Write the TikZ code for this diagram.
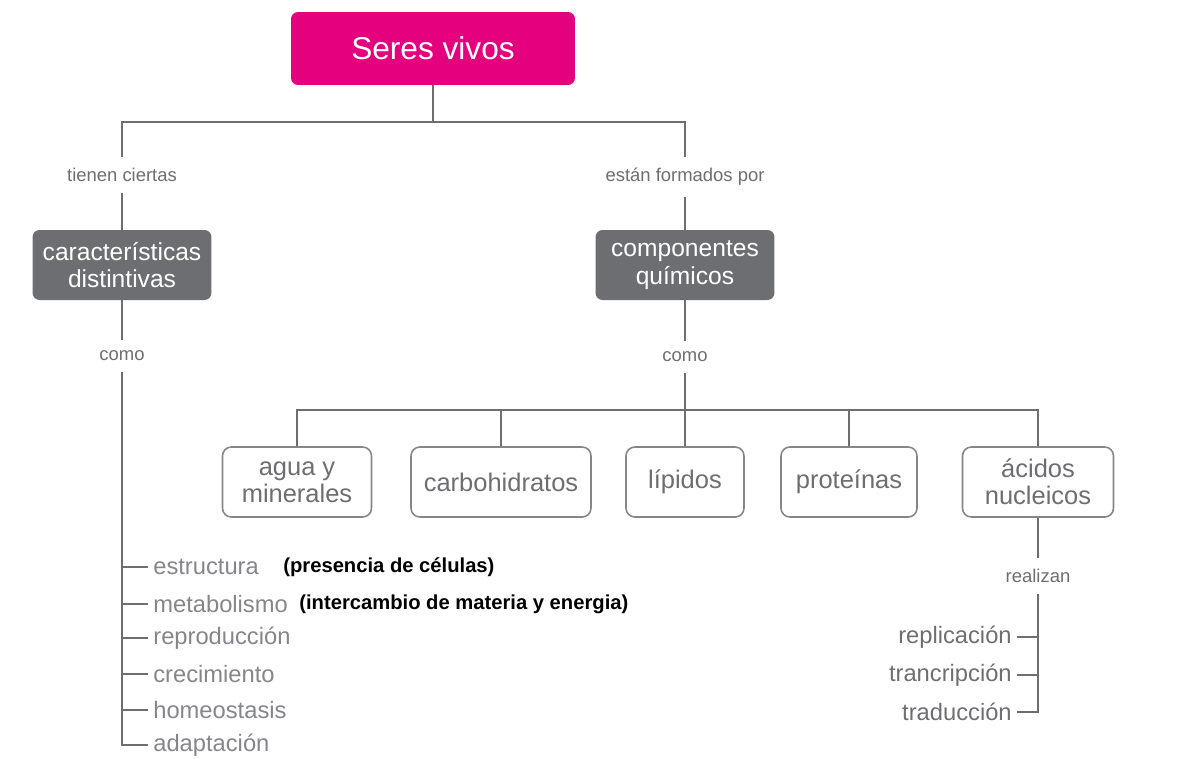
\documentclass[tikz,border=0pt]{standalone}
\usepackage{fontspec}
\setmainfont{Liberation Sans}
\usetikzlibrary{positioning}
\definecolor{pinkbox}{HTML}{E5007D}
\definecolor{darkbox}{HTML}{6D6E71}
\definecolor{linegray}{HTML}{6D6E71}
\definecolor{textgray}{HTML}{6D6E71}
\definecolor{itemgray}{HTML}{858689}
\tikzset{
  rootbox/.style={fill=pinkbox,rounded corners=4pt,text=white,minimum width=5.68cm,minimum height=1.46cm,font=\fontsize{18}{21}\selectfont},
  mainbox/.style={fill=darkbox,rounded corners=4pt,text=white,minimum width=3.58cm,minimum height=1.4cm,align=center,font=\fontsize{14}{15.5}\selectfont},
  subbox/.style={draw=itemgray,line width=0.9pt,rounded corners=5pt,text=textgray,minimum height=1.4cm,align=center,font=\fontsize{14.5}{15.5}\selectfont},
  linklabel/.style={text=textgray,inner xsep=2pt,inner ysep=6pt,font=\fontsize{10.5}{12}\selectfont},
  itemtext/.style={text=itemgray,inner sep=0pt,font=\fontsize{13.5}{15}\selectfont},
  notetext/.style={text=black,inner sep=0pt,font=\bfseries\fontsize{11.5}{13}\selectfont},
  conn/.style={draw=linegray,line width=1pt}
}
\begin{document}
\begin{tikzpicture}[x=0.02cm,y=-0.02cm]
\useasboundingbox (0,0) rectangle (1182,758);
% main boxes
\node[rootbox] (seres) at (433,48.5) {Seres vivos};
\node[mainbox] (carac) at (122,265) {características\\distintivas};
\node[mainbox] (comp) at (685,265) {componentes\\químicos};
% link labels
\node[linklabel] (tienen) at (122,175) {tienen ciertas};
\node[linklabel] (estan) at (685,177) {están formados por};
\node[linklabel] (comoL) at (122,356) {como};
\node[linklabel] (comoR) at (685,357) {como};
\node[linklabel] (realizan) at (1038,576) {realizan};
% components
\node[subbox,minimum width=2.98cm] (agua) at (297,482) {agua y\\minerales};
\node[subbox,minimum width=3.6cm] (carbo) at (501,482) {carbohidratos};
\node[subbox,minimum width=2.36cm] (lipidos) at (685,482) {lípidos};
\node[subbox,minimum width=2.72cm] (proteinas) at (849,482) {proteínas};
\node[subbox,minimum width=3.02cm] (acidos) at (1038,482) {ácidos\\nucleicos};
\coordinate (split) at (433,122);
\coordinate (bar) at (685,410);
% connectors
\draw[conn] (seres.south) -- (split);
\draw[conn] (tienen.north) |- (split) -| (estan.north);
\draw[conn] (tienen.south) -- (carac.north);
\draw[conn] (estan.south) -- (comp.north);
\draw[conn] (carac.south) -- (comoL.north);
\draw[conn] (comp.south) -- (comoR.north);
\draw[conn] (comoR.south) -- (bar);
\draw[conn] (agua.north) |- (bar) -| (acidos.north);
\foreach \n in {carbo,lipidos,proteinas}
  \draw[conn] (\n.north) -- (\n.north |- bar);
\draw[conn] (acidos.south) -- (realizan.north);
% characteristics
\node[itemtext,anchor=west] (estr) at (153,567) {estructura};
\node[itemtext,anchor=west] (meta) at (153,604) {metabolismo};
\node[itemtext,anchor=west] (repro) at (153,638) {reproducción};
\node[itemtext,anchor=west] (crec) at (153,674) {crecimiento};
\node[itemtext,anchor=west] (homeo) at (153,710) {homeostasis};
\node[itemtext,anchor=west] (adap) at (153,745) {adaptación};
\node[notetext,anchor=west] (presen) at (283,567) {(presencia de células)};
\node[notetext,anchor=west] (interc) at (299,604) {(intercambio de materia y energia)};
\draw[conn] (comoL.south) |- ([xshift=-3pt]adap.west);
\foreach \n in {estr,meta,repro,crec,homeo}
  \draw[conn] ([xshift=-3pt]\n.west) -- (\n.west -| comoL.south);
% processes
\node[itemtext,text=textgray,anchor=east] (repli) at (1012,637) {replicación};
\node[itemtext,text=textgray,anchor=east] (trans) at (1012,675) {trancripción};
\node[itemtext,text=textgray,anchor=east] (trad) at (1012,712) {traducción};
\draw[conn] (realizan.south) |- ([xshift=3pt]trad.east);
\foreach \n in {repli,trans}
  \draw[conn] ([xshift=3pt]\n.east) -- (\n.east -| realizan.south);
\end{tikzpicture}
\end{document}
